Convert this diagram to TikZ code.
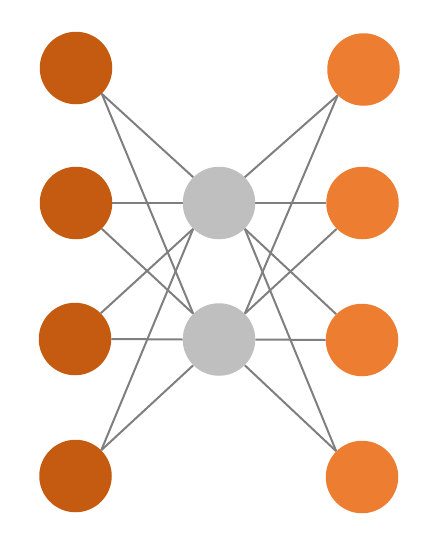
\documentclass[tikz,border=0pt]{standalone}
\usepackage{tikz}
\usetikzlibrary{backgrounds}
\definecolor{InDark}{HTML}{C55A11}
\definecolor{OutLight}{HTML}{ED7D31}
\definecolor{HidGray}{HTML}{BFBFBF}
\definecolor{EdgeGray}{HTML}{7F7F7F}
\pgfdeclarelayer{background}
\pgfsetlayers{background,main}
\begin{document}
\begin{tikzpicture}[x=1pt, y=-1pt]

% Bounding box
\useasboundingbox (0,0) rectangle (441,544);

% Node and edge styles
\tikzset{nN/.style={shape = circle, inner sep = 0pt, minimum size = 72.5pt}}
\tikzset{inN/.style={nN, fill = InDark}}
\tikzset{hidN/.style={nN, fill = HidGray}}
\tikzset{outN/.style={nN, fill = OutLight}}
\tikzset{eN/.style={color = EdgeGray, line width = 2pt}}

% Input nodes
\node (i1) [inN] at (76, 68) {};
\node (i2) [inN] at (76, 203) {};
\node (i3) [inN] at (75, 339) {};
\node (i4) [inN] at (75.5, 476) {};

% Hidden nodes
\node (h1) [hidN] at (219, 203) {};
\node (h2) [hidN] at (219, 339.5) {};

% Output nodes
\node (o1) [outN] at (363.5, 69.5) {};
\node (o2) [outN] at (362.5, 203) {};
\node (o3) [outN] at (362, 340) {};
\node (o4) [outN] at (362, 477) {};

% Edges
\begin{pgfonlayer}{background}
	\draw[eN] (i1.south east) -- (h1.north west);
	\draw[eN] (i1.south east) -- (h2.north west);
	\draw[eN] (i2.east) -- (h1.west);
	\draw[eN] (i2.south east) -- (h2.north west);
	\draw[eN] (i3.north east) -- (h1.south west);
	\draw[eN] (i3.east) -- (h2.west);
	\draw[eN] (i4.north east) -- (h1.south west);
	\draw[eN] (i4.north east) -- (h2.south west);

	\draw[eN] (h1.north east) -- (o1.south west);
	\draw[eN] (h2.north east) -- (o1.south west);
	\draw[eN] (h1.east) -- (o2.west);
	\draw[eN] (h2.north east) -- (o2.south west);
	\draw[eN] (h1.south east) -- (o3.north west);
	\draw[eN] (h2.east) -- (o3.west);
	\draw[eN] (h1.south east) -- (o4.north west);
	\draw[eN] (h2.south east) -- (o4.north west);
\end{pgfonlayer}

\end{tikzpicture}
\end{document}
